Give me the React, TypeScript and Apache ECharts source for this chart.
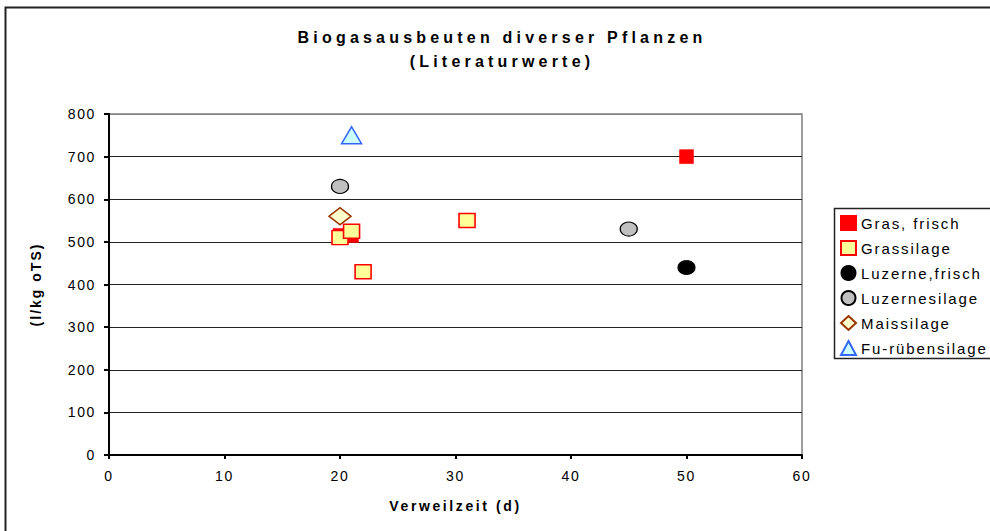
import React, { useEffect, useRef } from "react";
import * as echarts from "echarts";

const titleLines = ["Biogasausbeuten diverser Pflanzen", "(Literaturwerte)"];
const xAxisName = "Verweilzeit (d)";
const yAxisName = "(l/kg oTS)";
const seriesNames = ["Gras, frisch", "Grassilage", "Luzerne,frisch", "Luzernesilage", "Maissilage", "Fu-rübensilage"];

const grasFrisch = [[20, 515], [21, 515], [50, 700]];
const grassilage = [[20, 510], [21, 525], [22, 430], [31, 550]];
const luzerneFrisch = [[50, 440]];
const luzernesilage = [[20, 630], [45, 530]];
const maissilage = [[20, 560]];
const furuebensilage = [[21, 750]];

const FONT = "'Liberation Sans', Arial, sans-serif";

export default function App() {
  const ref = useRef<HTMLDivElement>(null);
  useEffect(() => {
    if (!ref.current) return;
    const chart = echarts.init(ref.current, undefined, { renderer: "svg" });
    const gridColors = ["#000", "#222", "#222", "#222", "#222", "#222", "#222", "#222", "#808080"];
    chart.setOption({
      animation: false,
      backgroundColor: "#fff",
      grid: {
        left: 109, top: 114, right: 188, bottom: 76,
        show: true, borderColor: "#808080", borderWidth: 1.5, backgroundColor: "transparent",
      },
      xAxis: {
        type: "value", min: 0, max: 60, interval: 10,
        name: xAxisName, nameLocation: "middle", nameGap: 44,
        nameTextStyle: { fontFamily: FONT, fontSize: 14, fontWeight: "bold", color: "#000" },
        axisLine: { show: true, onZero: false, lineStyle: { color: "#000", width: 2 } },
        axisTick: { show: true, length: 4, lineStyle: { color: "#000", width: 2 } },
        axisLabel: { fontFamily: FONT, fontSize: 14, color: "#000", margin: 14 },
        splitLine: { show: false },
      },
      yAxis: {
        type: "value", min: 0, max: 800, interval: 100,
        name: yAxisName, nameLocation: "middle", nameGap: 66, nameRotate: 90,
        nameTextStyle: { fontFamily: FONT, fontSize: 14, fontWeight: "bold", color: "#000" },
        axisLine: { show: true, lineStyle: { color: "#000", width: 2 } },
        axisTick: { show: true, length: 5, lineStyle: { color: "#000", width: 2 } },
        axisLabel: { fontFamily: FONT, fontSize: 14, color: "#000", margin: 13 },
        splitLine: { show: true, lineStyle: { color: gridColors, width: 1 } },
      },
      legend: {
        orient: "vertical", left: 840, top: 215, padding: 0,
        itemWidth: 15, itemHeight: 14, itemGap: 9,
        textStyle: { fontFamily: FONT, fontSize: 15, color: "#000" },
        data: seriesNames,
      },
      graphic: [
        { type: "rect", shape: { x: 5.5, y: 7.5, width: 1100, height: 600 }, style: { fill: "none", stroke: "#222", lineWidth: 2 }, silent: true, z: 100 },
        { type: "rect", shape: { x: 834.5, y: 208.5, width: 200, height: 150 }, style: { fill: "none", stroke: "#222", lineWidth: 1.5 }, silent: true, z: 100 },
        { type: "text", x: 502, y: 37, style: { text: titleLines[0], font: `bold 16px ${FONT}`, fill: "#000", textAlign: "center", textVerticalAlign: "middle" } },
        { type: "text", x: 502, y: 61, style: { text: titleLines[1], font: `bold 16px ${FONT}`, fill: "#000", textAlign: "center", textVerticalAlign: "middle" } },
      ],
      series: [
        { name: seriesNames[0], type: "scatter", data: grasFrisch, symbol: "rect", symbolSize: [14, 14],
          itemStyle: { color: "#FF0000", borderColor: "#FF0000", borderWidth: 0.5, opacity: 1 } },
        { name: seriesNames[1], type: "scatter", data: grassilage, symbol: "rect", symbolSize: [16, 14],
          itemStyle: { color: "#FFFF99", borderColor: "#FF0000", borderWidth: 1.5, opacity: 1 } },
        { name: seriesNames[2], type: "scatter", data: luzerneFrisch, symbol: "circle", symbolSize: [17, 14],
          itemStyle: { color: "#000000", borderColor: "#000", borderWidth: 1, opacity: 1 } },
        { name: seriesNames[3], type: "scatter", data: luzernesilage, symbol: "circle", symbolSize: [17, 14],
          itemStyle: { color: "#C0C0C0", borderColor: "#000", borderWidth: 1.2, opacity: 1 } },
        { name: seriesNames[4], type: "scatter", data: maissilage, symbol: "diamond", symbolSize: [22, 17],
          itemStyle: { color: "#FFFFCC", borderColor: "#993300", borderWidth: 1.5, opacity: 1 } },
        { name: seriesNames[5], type: "scatter", data: furuebensilage, symbol: "triangle", symbolSize: [20, 17],
          itemStyle: { color: "#CCFFFF", borderColor: "#3366FF", borderWidth: 1.5, opacity: 1 } },
      ],
    });
    const applySpacing = () => {
      const texts = ref.current?.querySelectorAll("text") || [];
      texts.forEach((t) => {
        const s = t.textContent || "";
        let sp = 0;
        if (titleLines.includes(s)) sp = 4.2;
        else if (seriesNames.includes(s)) sp = 1.9;
        else if (s === xAxisName) sp = 2.6;
        else if (s === yAxisName) sp = 2;
        else if (/^\d+$/.test(s)) sp = 1.6;
        if (sp) t.setAttribute("letter-spacing", String(sp));
      });
    };
    applySpacing();
    chart.on("finished", applySpacing);
    return () => chart.dispose();
  }, []);
  return <div ref={ref} style={{ position: "fixed", left: 0, top: 0, width: 990, height: 531 }} />;
}
